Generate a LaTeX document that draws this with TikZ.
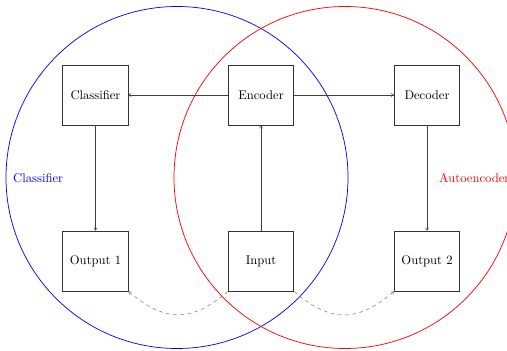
\documentclass[tikz,border=0pt]{standalone}
\usetikzlibrary{arrows.meta}
\begin{document}
\begin{tikzpicture}[x=0.8333pt,y=-0.8333pt,
  every node/.style={font=\fontsize{10.5pt}{12.6pt}\selectfont},
  box/.style={draw=black!80,thick,minimum width=54.2pt,minimum height=50pt,inner sep=0pt},
  conn/.style={draw=black!75,->,>={To[length=2.5pt,width=3pt]}},
  dconn/.style={draw=black!55,dashed,->,>={To[length=2.5pt,width=3pt]}}]
\useasboundingbox (0,0) rectangle (507,351);
\clip (0,0) rectangle (507,351);
\draw[blue,semithick] (177,177.5) circle (171*0.8333pt);
\draw[red,semithick] (345,177.5) circle (171*0.8333pt);
\node[blue,anchor=west,inner sep=0pt] (lc) at (13,178.5) {Classifier};
\node[red,anchor=west,inner sep=0pt] (la) at (439,178.5) {Autoencoder};
\node[box] (cls) at (95.5,95) {Classifier};
\node[box] (enc) at (261,95) {Encoder};
\node[box] (dec) at (427,95) {Decoder};
\node[box] (o1) at (95.5,261) {Output 1};
\node[box] (in) at (261,261) {Input};
\node[box] (o2) at (427,261) {Output 2};
\draw[conn] (enc) -- (cls);
\draw[conn] (enc) -- (dec);
\draw[conn] (cls) -- (o1);
\draw[conn] (in) -- (enc);
\draw[conn] (dec) -- (o2);
\draw[dconn] (in.south west) to[out=-140,in=-40,looseness=1.25] (o1.south east);
\draw[dconn] (in.south east) to[out=-40,in=-140,looseness=1.25] (o2.south west);
\end{tikzpicture}
\end{document}
